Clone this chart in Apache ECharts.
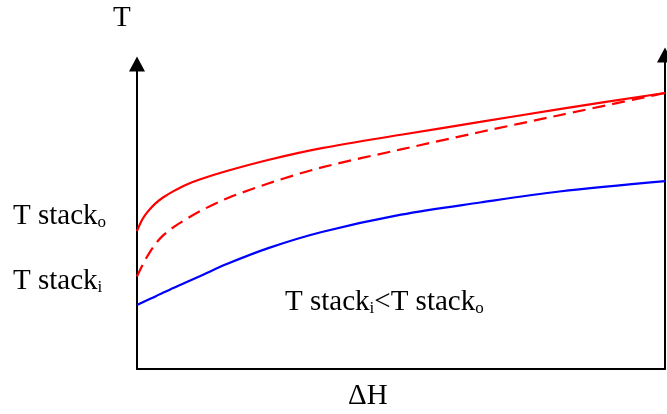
<!DOCTYPE html>
<html>
<head>
<meta charset="utf-8">
<script src="https://cdn.jsdelivr.net/npm/echarts@6/dist/echarts.min.js"></script>
<style>html,body{margin:0;padding:0;background:#fff}#c{width:667px;height:414px}</style>
</head>
<body>
<div id="c"></div>
<script>
// ΔH (arbitrary units, 0..100)
var deltaH = [0, 1, 2, 3.5, 5, 7, 9, 12, 17, 25, 35, 50, 65, 80, 100];
// T stack_o (solid red)
var tStackOut = [45.2, 49.0, 51.5, 54.3, 56.3, 58.4, 60.2, 62.2, 64.9, 68.6, 72.4, 76.8, 81.0, 85.2, 90.5];
// T stack_i (dashed red)
var tStackIn = [30.3, 33.9, 37.1, 41.0, 43.9, 46.6, 48.8, 51.8, 55.9, 60.9, 66.1, 72.0, 77.7, 83.2, 90.5];
// lower curve (blue)
var tLower = [21.0, 21.8, 22.6, 23.8, 25.1, 26.6, 28.2, 30.5, 34.4, 39.7, 44.9, 50.6, 54.6, 58.2, 61.6];

function pairs(xs, ys) { return xs.map(function (x, i) { return [x, ys[i]]; }); }

var FONT = '"Liberation Serif", "Times New Roman", serif';
var rich = {
  m: { fontFamily: FONT, fontSize: 29, lineHeight: 29, color: '#000', verticalAlign: 'top' },
  s: { fontFamily: FONT, fontSize: 17, lineHeight: 14, color: '#000', verticalAlign: 'bottom' }
};
function label(x, top, text) {
  return { type: 'text', left: x, top: top, silent: true,
    style: { text: text, rich: rich, fill: '#000' } };
}

var chart = echarts.init(document.getElementById('c'), null, { renderer: 'canvas' });
chart.setOption({
  animation: false,
  backgroundColor: '#fff',
  grid: [
    { left: 137, right: 2, top: 64, bottom: 45 },
    { left: 137, right: 2, top: 55, bottom: 45 }
  ],
  xAxis: [
    { type: 'value', gridIndex: 0, min: 0, max: 100,
      axisLine: { show: true, onZero: false, lineStyle: { color: '#000', width: 2 } },
      axisTick: { show: false }, axisLabel: { show: false }, splitLine: { show: false } },
    { type: 'value', gridIndex: 1, min: 0, max: 100, show: false }
  ],
  yAxis: [
    { type: 'value', gridIndex: 0, min: 0, max: 100, position: 'left',
      axisLine: { show: true, onZero: false, symbol: ['none', 'triangle'], symbolSize: [16, 15],
        lineStyle: { color: '#000', width: 2 } },
      axisTick: { show: false }, axisLabel: { show: false }, splitLine: { show: false } },
    { type: 'value', gridIndex: 1, min: 0, max: 100, position: 'right',
      axisLine: { show: true, onZero: false, symbol: ['none', 'triangle'], symbolSize: [16, 15],
        lineStyle: { color: '#000', width: 2 } },
      axisTick: { show: false }, axisLabel: { show: false }, splitLine: { show: false } }
  ],
  series: [
    { type: 'line', xAxisIndex: 0, yAxisIndex: 0, data: pairs(deltaH, tStackOut), smooth: 0.33,
      symbol: 'none', lineStyle: { color: '#ff0000', width: 2.2 } },
    { type: 'line', xAxisIndex: 0, yAxisIndex: 0, data: pairs(deltaH, tStackIn), smooth: 0.33,
      symbol: 'none', lineStyle: { color: '#ff0000', width: 2.2, type: [13, 7] } },
    { type: 'line', xAxisIndex: 0, yAxisIndex: 0, data: pairs(deltaH, tLower), smooth: 0.33,
      symbol: 'none', lineStyle: { color: '#0000ff', width: 2.2 } }
  ],
  graphic: [
    label(113, 3.7, '{m|T}'),
    label(13, 201.7, '{m|T stack}{s|o}'),
    label(13, 266.7, '{m|T stack}{s|i}'),
    label(285, 287.7, '{m|T stack}{s|i}{m|<T stack}{s|o}'),
    label(348, 382.2, '{m|ΔH}')
  ]
});
</script>
</body>
</html>
